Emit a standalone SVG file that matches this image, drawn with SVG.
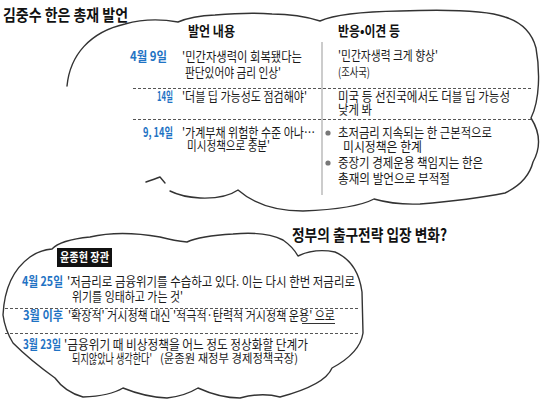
<svg xmlns="http://www.w3.org/2000/svg" width="540" height="404" viewBox="0 0 540 404">
<style>
text{font-family:"Noto Sans CJK KR","Noto Sans",sans-serif;fill:#1a1a1a;font-size:13px}
.t{font-size:16px;font-weight:bold;fill:#111}
.h{font-size:13.5px;font-weight:bold;fill:#111}
.d{fill:#1f73c4;font-weight:bold}
.s{font-size:12px}
.cloud{fill:none;stroke:#333;stroke-width:1.4;stroke-linejoin:round;stroke-linecap:round}
.dash{stroke:#555;stroke-width:1;stroke-dasharray:3 2;fill:none}
.vl{stroke:#999;stroke-width:1}
</style>
<rect width="540" height="404" fill="#fff"/>

<g id="cloud1">
<path class="cloud" d="M67,86 C70,55 90,32 125,24 Q150,17 178,22 Q192,16 215,15 Q250,12 272,14 Q298,14 320,21 Q340,12 400,11 Q480,8 505,17 Q530,25 536,48 C540,70 540,100 531,118 Q545,140 533,162 Q528,182 505,193 Q470,200 420,204 Q395,205 374,199 Q355,209 303,211 Q262,211 238,190 Q225,199 200,198 Q182,197 170,191"/>
<path class="cloud" d="M146,182 Q155,179 160,177 L165,183"/>
</g>
<text id="title1" class="t" x="3" y="21" textLength="125" lengthAdjust="spacingAndGlyphs">김중수 한은 총재 발언</text>

<g id="table1">
<text class="h" x="188" y="36" textLength="47" lengthAdjust="spacingAndGlyphs">발언 내용</text>
<text class="h" x="338" y="36" textLength="62" lengthAdjust="spacingAndGlyphs">반응•이견 등</text>
<line class="vl" x1="322" y1="42" x2="322" y2="195"/>

<text class="d" x="130" y="61" textLength="37" lengthAdjust="spacingAndGlyphs">4월 9일</text>
<text x="182" y="61" textLength="120" lengthAdjust="spacingAndGlyphs">'민간자생력이 회복됐다는</text>
<text x="185" y="77" textLength="96" lengthAdjust="spacingAndGlyphs">판단있어야 금리 인상'</text>
<text x="338" y="60" textLength="100" lengthAdjust="spacingAndGlyphs">'민간자생력 크게 향상'</text>
<text class="s" x="338" y="77" textLength="32" lengthAdjust="spacingAndGlyphs">(조사국)</text>
<line class="dash" x1="133" y1="88.5" x2="533" y2="88.5"/>

<text class="d" x="157" y="101" textLength="16" lengthAdjust="spacingAndGlyphs">14일</text>
<text x="182" y="101" textLength="125" lengthAdjust="spacingAndGlyphs">'더블 딥 가능성도 점검해야'</text>
<text x="338" y="101" textLength="172" lengthAdjust="spacingAndGlyphs">미국 등 선진국에서도 더블 딥 가능성</text>
<text x="338" y="114" textLength="34" lengthAdjust="spacingAndGlyphs">낮게 봐</text>
<line class="dash" x1="133" y1="119.5" x2="533" y2="119.5"/>

<text class="d" x="143" y="137" textLength="30" lengthAdjust="spacingAndGlyphs">9, 14일</text>
<text x="182" y="137" textLength="133" lengthAdjust="spacingAndGlyphs">'가계부채 위험한 수준 아나…</text>
<text x="187" y="150" textLength="83" lengthAdjust="spacingAndGlyphs">미시정책으로 충분'</text>
<circle cx="328" cy="133" r="2.6" fill="#777"/>
<text x="338" y="137" textLength="154" lengthAdjust="spacingAndGlyphs">초저금리 지속되는 한 근본적으로</text>
<text x="343" y="151" textLength="79" lengthAdjust="spacingAndGlyphs">미시정책은 한계</text>
<circle cx="328" cy="163" r="2.6" fill="#777"/>
<text x="338" y="167" textLength="145" lengthAdjust="spacingAndGlyphs">중장기 경제운용 책임지는 한은</text>
<text x="338" y="183" textLength="112" lengthAdjust="spacingAndGlyphs">총재의 발언으로 부적절</text>
</g>

<text id="title2" class="t" x="292" y="241" textLength="155" lengthAdjust="spacingAndGlyphs">정부의 출구전략 입장 변화?</text>
<g id="cloud2">
<path class="cloud" d="M3,315 Q5,275 30,257 Q40,250 52,249 Q60,240 90,237 Q120,230 160,237 Q175,241 187,242 Q200,236 233,234 Q265,231 283,240 Q293,247 298,256 Q315,248 335,252 Q358,262 362,292 L363,333 Q360,353 332,368 Q325,385 280,397 Q262,392 240,398 Q220,398 198,388 Q185,396 167,398 Q145,397 123,388 Q110,396 83,397 Q65,392 55,378 Q30,360 13,343 Q5,330 3,315 Z"/>
</g>

<g id="table2">
<rect x="57" y="248" width="55" height="19" fill="#111"/>
<text x="60" y="262" style="fill:#fff;font-weight:bold;font-size:12.5px" textLength="49" lengthAdjust="spacingAndGlyphs">윤종현 장관</text>

<text class="d" x="22" y="286" textLength="41" lengthAdjust="spacingAndGlyphs">4월 25일</text>
<text x="67" y="286" textLength="288" lengthAdjust="spacingAndGlyphs">'저금리로 금융위기를 수습하고 있다. 이는 다시 한번 저금리로</text>
<text x="72" y="301" textLength="111" lengthAdjust="spacingAndGlyphs">위기를 잉태하고 가는 것'</text>
<line class="dash" x1="5" y1="308.5" x2="360" y2="308.5"/>

<text class="d" x="23" y="320" textLength="40" lengthAdjust="spacingAndGlyphs">3월 이후</text>
<text x="68" y="320" textLength="267" lengthAdjust="spacingAndGlyphs">'확장적' 거시정책 대신 '적극적·탄력적 거시정책 운용' 으로</text>
<line x1="302" y1="323.5" x2="335" y2="323.5" stroke="#333" stroke-width="1"/>
<line class="dash" x1="5" y1="333.5" x2="360" y2="333.5"/>

<text class="d" x="23" y="349" textLength="38" lengthAdjust="spacingAndGlyphs">3월 23일</text>
<text x="64" y="349" textLength="244" lengthAdjust="spacingAndGlyphs">'금융위기 때 비상정책을 어느 정도 정상화할 단계가</text>
<text x="72" y="363" textLength="80" lengthAdjust="spacingAndGlyphs">되지않았나 생각한다'</text>
<text class="s" x="160" y="363" textLength="138" lengthAdjust="spacingAndGlyphs">(윤종원 재정부 경제정책국장)</text>
</g>
</svg>
